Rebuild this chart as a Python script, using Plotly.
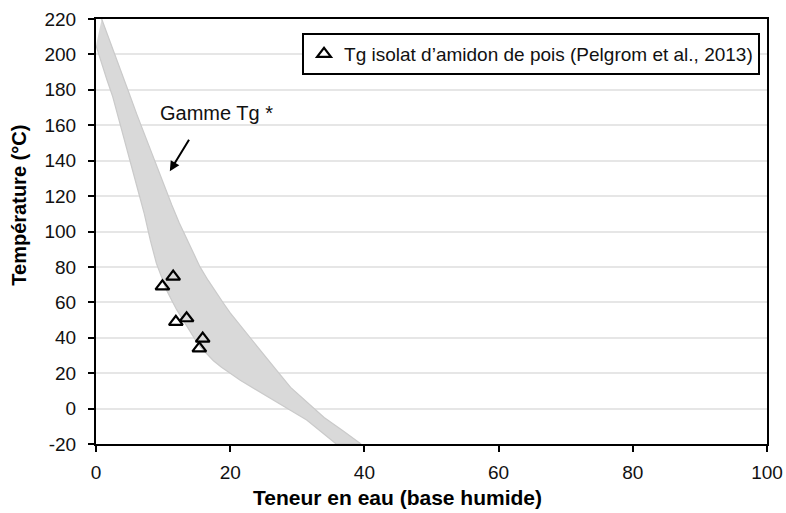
import plotly.graph_objects as go

# Band "Gamme Tg" : upper (right) edge and lower (left) edge
upper_x = [0.85, 2.2, 3.5, 4.8, 6.1, 7.4, 8.7, 10.0, 11.3, 12.4, 13.5, 14.5, 15.5, 16.7, 17.8, 19.0, 20.0, 22.0, 24.0, 26.5, 29.0, 31.5, 34.0, 36.8, 39.5]
upper_t = [220, 206.5, 193, 179.5, 166, 153, 140, 127.5, 115, 105, 96, 88, 80, 72.5, 66, 59.5, 54, 44.5, 35, 23.5, 12, 3.5, -5, -12.5, -20]
lower_x = [0.0, 0.8, 1.6, 2.5, 3.3, 4.2, 5.2, 6.2, 7.2, 8.1, 9.0, 9.8, 10.5, 11.3, 12.0, 12.9, 13.7, 14.6, 15.5, 16.5, 17.5, 18.7, 20.0, 21.5, 23.0, 24.7, 26.4, 28.9, 31.4, 33.6, 35.8]
lower_t = [205, 195.5, 186, 176, 166, 152, 138, 124, 110, 95, 82, 74, 67, 61, 56, 50.5, 45.5, 40, 35, 30.8, 27, 23.3, 20, 16, 12.5, 8.6, 5, -0.8, -6.5, -13, -20]

# Tg isolat d'amidon de pois (Pelgrom et al., 2013)
pts_x = [9.9, 11.5, 11.9, 13.5, 15.9, 15.4]
pts_t = [69, 74.5, 49, 51, 39.5, 34]

# Axis ticks
x_ticks = [0, 20, 40, 60, 80, 100]
y_ticks = [-20, 0, 20, 40, 60, 80, 100, 120, 140, 160, 180, 200, 220]
y_ticktext = ["-20", "0", "20", "40", "60", "80", "100", "120", "140", "160", "180", "200", "220"]

FONT = "Liberation Sans, Arial, sans-serif"
TXT = "#111111"

fig = go.Figure()

band_x = upper_x + lower_x[::-1]
band_t = upper_t + lower_t[::-1]
fig.add_trace(go.Scatter(
    x=band_x, y=band_t, mode="lines", fill="toself",
    fillcolor="#d9d9d9", line=dict(color="#cacaca", width=1.2),
    showlegend=False, hoverinfo="skip"))

fig.add_trace(go.Scatter(
    x=pts_x, y=pts_t, mode="markers",
    name="Tg isolat d\u2019amidon de pois (Pelgrom et al., 2013)",
    marker=dict(symbol="triangle-up-open", size=12, color="black",
                line=dict(color="black", width=2.2))))

fig.add_annotation(x=18.0, y=167, xref="x", yref="y", text="Gamme Tg *",
                   showarrow=False, font=dict(family=FONT, size=20, color=TXT))
fig.add_annotation(x=11.0, y=134, ax=14.0, ay=152.6, xref="x", yref="y",
                   axref="x", ayref="y", text="", showarrow=True,
                   arrowhead=2, arrowsize=1, arrowwidth=2, arrowcolor="black")

fig.add_annotation(x=0.45, y=-0.125, xref="paper", yref="paper",
                   text="<b>Teneur en eau (base humide)</b>", showarrow=False,
                   yanchor="middle", font=dict(family=FONT, size=21, color="black"))
fig.add_annotation(x=-0.114, y=0.562, xref="paper", yref="paper",
                   text="<b>Température (°C)</b>", showarrow=False, textangle=-90,
                   xanchor="center", yanchor="middle",
                   font=dict(family=FONT, size=20, color="black"))

fig.update_layout(
    width=786, height=513,
    margin=dict(l=96, r=19, t=19, b=69, autoexpand=False),
    paper_bgcolor="white", plot_bgcolor="white",
    font=dict(family=FONT, size=18, color=TXT),
    legend=dict(x=0.9896, y=0.967, xanchor="right", yanchor="top",
                bordercolor="black", borderwidth=2, bgcolor="white",
                font=dict(family=FONT, size=19, color=TXT),
                itemwidth=30, tracegroupgap=0),
    xaxis=dict(range=[0, 100], tickvals=x_ticks, showgrid=False,
               showline=True, linecolor="black", linewidth=2, mirror=True,
               ticks="outside", ticklen=6, tickwidth=2, tickcolor="black",
               zeroline=False, tickfont=dict(size=19, color=TXT),
               automargin=False, ticklabelstandoff=4),
    yaxis=dict(range=[-20, 220], tickvals=y_ticks, ticktext=y_ticktext,
               showgrid=True, gridcolor="#e6e6e6", gridwidth=2,
               showline=True, linecolor="black", linewidth=2, mirror=True,
               ticks="outside", ticklen=6, tickwidth=2, tickcolor="black",
               zeroline=False, tickfont=dict(size=19, color=TXT),
               automargin=False, ticklabelstandoff=8),
)

fig.write_html("out.html", config={"displayModeBar": False},
               post_script="document.body.style.margin='0';document.body.style.overflow='hidden';")
